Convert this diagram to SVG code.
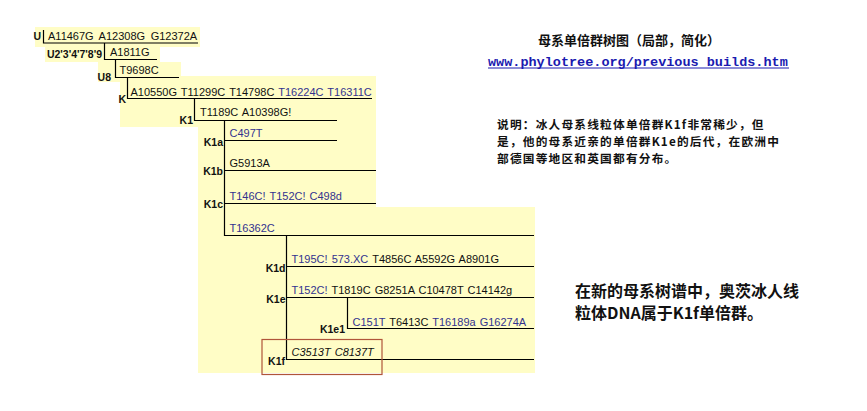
<svg xmlns="http://www.w3.org/2000/svg" width="867" height="411" viewBox="0 0 867 411">
<style>
.bg{fill:#FFFDC6;stroke:none}
.ln{stroke:#000;stroke-width:1.2;fill:none}
.lab{font-family:"Liberation Sans",Arial,sans-serif;font-size:10.5px;font-weight:bold;fill:#111;text-anchor:end}
.mut{font-family:"Liberation Sans",Arial,sans-serif;font-size:11px;fill:#111;word-spacing:1px}
.cr{fill:#33338F}
.it{font-style:italic}
.cjk{font-family:"Noto Sans CJK SC",sans-serif;font-weight:bold;fill:#111}
.link{font-family:"Liberation Mono","Courier New",monospace;font-size:13.5px;font-weight:bold;fill:#1A1AB0}
</style>
<rect width="867" height="411" fill="#FFFFFF"/>
<polygon class="bg" points="35,27 200,27 200,47 160,47 160,62 181,62 181,76 376,76 376,207 535,207 535,373 198,373 198,127 120,127 120,82 98,82 98,62 45,62 45,47 35,47"/>

<g id="connectors">
<path class="ln" d="M43.5,30 V43 H198"/>
<path class="ln" d="M104.5,43 V59.5 H157"/>
<path class="ln" d="M115.5,59.5 V77.5 H179"/>
<path class="ln" d="M127.5,77.5 V98.5 H372"/>
<path class="ln" d="M194.5,98.5 V120.5 H337"/>
<path class="ln" d="M224.5,120.5 V235.5 H534"/>
<path class="ln" d="M224.5,140.5 H337"/>
<path class="ln" d="M224.5,170.5 H376"/>
<path class="ln" d="M224.5,203.5 H376"/>
<path class="ln" d="M286.5,235.5 V359.5 H534"/>
<path class="ln" d="M286.5,266.5 H534"/>
<path class="ln" d="M286.5,297.5 H534"/>
<path class="ln" d="M347.5,297.5 V328.5 H534"/>
</g>

<g id="U">
<text class="lab" x="41" y="40">U</text>
<text class="mut" x="48" y="39.5" style="word-spacing:2.5px">A11467G A12308G G12372A</text>
</g>
<g id="U2">
<text class="lab" x="102" y="57.5">U2'3'4'7'8'9</text>
<text class="mut" x="110" y="56">A1811G</text>
</g>
<g id="U8">
<text class="lab" x="111" y="80.5">U8</text>
<text class="mut" x="119.5" y="74">T9698C</text>
</g>
<g id="K">
<text class="lab" x="126" y="103">K</text>
<text class="mut" x="130.5" y="95.5">A10550G T11299C T14798C <tspan class="cr">T16224C T16311C</tspan></text>
</g>
<g id="K1">
<text class="lab" x="193" y="124">K1</text>
<text class="mut" x="200" y="115.5">T1189C A10398G!</text>
</g>
<g id="K1a">
<text class="lab" x="223" y="146">K1a</text>
<text class="mut cr" x="229.5" y="137">C497T</text>
</g>
<g id="K1b">
<text class="lab" x="223" y="175">K1b</text>
<text class="mut" x="229.5" y="167">G5913A</text>
</g>
<g id="K1c">
<text class="lab" x="223" y="207.5">K1c</text>
<text class="mut cr" x="229.5" y="200">T146C! T152C! C498d</text>
<text class="mut cr" x="229.5" y="231.5">T16362C</text>
</g>
<g id="K1d">
<text class="lab" x="285.5" y="271.5">K1d</text>
<text class="mut" x="291.5" y="263"><tspan class="cr">T195C! 573.XC</tspan> T4856C A5592G A8901G</text>
</g>
<g id="K1e">
<text class="lab" x="285.5" y="303">K1e</text>
<text class="mut" x="291.5" y="294"><tspan class="cr">T152C!</tspan> T1819C G8251A C10478T C14142g</text>
</g>
<g id="K1e1">
<text class="lab" x="345" y="332.5">K1e1</text>
<text class="mut" x="352.5" y="325.5"><tspan class="cr">C151T</tspan> T6413C <tspan class="cr">T16189a G16274A</tspan></text>
</g>
<g id="K1f">
<rect x="262" y="339.5" width="120" height="35" fill="none" stroke="#B0553A" stroke-width="1.2"/>
<text class="lab" x="285" y="365">K1f</text>
<text class="mut it" x="291.5" y="356">C3513T C8137T</text>
</g>

<g id="title">
<text class="cjk" x="538" y="45" font-size="13">母系单倍群树图（局部，简化）</text>
<text class="link" x="488" y="65.5">www.phylotree.org/previous builds.htm</text>
<line x1="488" y1="68" x2="789" y2="68" stroke="#1A1AB0" stroke-width="1"/>
</g>
<g id="note">
<text class="cjk" font-size="11.7" letter-spacing="1.2" x="497" y="128.8">说明：冰人母系线粒体单倍群K1f非常稀少，但</text>
<text class="cjk" font-size="11.7" letter-spacing="1.2" x="497" y="145.8">是，他的母系近亲的单倍群K1e的后代，在欧洲中</text>
<text class="cjk" font-size="11.7" letter-spacing="1.2" x="497" y="162.8">部德国等地区和英国都有分布。</text>
</g>
<g id="conclusion">
<text class="cjk" font-size="16" x="575" y="297">在新的母系树谱中，奥茨冰人线</text>
<text class="cjk" font-size="16" x="575" y="319">粒体DNA属于K1f单倍群。</text>
</g>
</svg>
